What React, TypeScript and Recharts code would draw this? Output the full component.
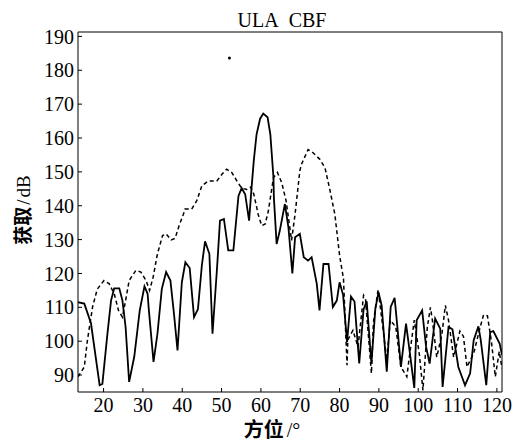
import React from 'react';
import { ComposedChart, Line, Scatter, XAxis, YAxis } from 'recharts';

const xTicks = [20, 30, 40, 50, 60, 70, 80, 90, 100, 110, 120];
const yTicks = [90, 100, 110, 120, 130, 140, 150, 160, 170, 180, 190];

const solidAz = [
  13.5, 15.1, 16.8, 19.0, 19.7, 21.0, 21.9, 22.7, 24.0, 24.8,
  25.6, 26.5, 27.8, 29.2, 30.4, 31.2, 31.5, 32.7, 33.7, 34.8,
  35.9, 37.0, 37.9, 38.8, 39.9, 40.8, 41.9, 43.0, 44.0, 45.0,
  45.8, 46.9, 47.7, 48.9, 49.6, 50.6, 51.7, 53.0, 54.3, 55.1,
  56.0, 57.0, 57.6, 58.2, 58.9, 59.8, 60.6, 61.7, 62.4, 63.2, 63.3, 64.0,
  64.8, 66.1, 67.0, 68.0, 68.7, 69.9, 70.9, 72.0, 72.9, 74.2,
  74.9, 75.9, 77.2, 78.3, 79.3, 80.0, 80.9, 81.9, 82.9, 83.8,
  85.0, 86.1, 86.9, 88.1, 89.1, 89.9, 90.7, 92.0, 93.0, 94.0,
  94.7, 95.6, 96.9, 97.9, 99.0, 99.6, 101.0, 102.0, 102.9, 104.3,
  105.6, 106.2, 107.7, 108.7, 110.2, 111.9, 113.2, 114.1, 115.3, 115.9,
  117.3, 118.3, 119.1, 120.7, 121.3,
];
const solidGain = [
  111.5, 111.1, 105.3, 87.0, 87.4, 102.4, 112.0, 115.6, 115.6, 112.0,
  104.2, 88.0, 95.4, 109.1, 116.2, 114.0, 109.4, 93.9, 102.2, 115.4,
  120.4, 117.9, 108.1, 97.3, 117.4, 123.3, 121.6, 107.1, 109.5, 122.5,
  129.5, 125.8, 102.2, 122.5, 135.6, 136.1, 126.8, 126.8, 142.9, 145.2,
  143.4, 135.6, 144.9, 153.4, 161.1, 165.7, 167.2, 166.1, 161.1, 148.3, 142.4, 128.7,
  132.6, 140.5, 133.6, 120.0, 130.7, 131.7, 124.8, 123.8, 124.8, 117.0,
  109.1, 122.8, 122.8, 110.1, 112.0, 117.4, 113.7, 99.8, 113.2, 111.7,
  93.4, 109.4, 111.8, 93.4, 109.6, 114.4, 110.6, 91.0, 110.1, 112.8,
  104.2, 92.4, 105.2, 96.3, 86.2, 106.2, 109.1, 98.3, 93.4, 106.7,
  103.7, 86.5, 104.2, 103.5, 92.4, 87.0, 90.5, 100.3, 104.4, 100.3,
  87.0, 102.7, 103.0, 99.3, 96.0,
];

const dashedAz = [
  13.5, 15.1, 15.9, 17.2, 18.4, 20.1, 21.4, 22.7, 23.8, 24.8,
  25.6, 26.5, 28.2, 29.5, 30.8, 31.7, 32.6, 33.7, 35.0, 35.9,
  37.2, 38.2, 39.2, 40.3, 40.7, 42.4, 43.7, 45.0, 46.6, 48.8,
  50.1, 51.3, 52.6, 53.9, 55.1, 56.4, 57.4, 58.2, 59.3, 60.2,
  61.1, 61.9, 63.2, 64.2, 65.3, 66.4, 67.8, 68.7, 69.9, 70.3,
  72.0, 73.2, 75.0, 76.3, 77.5, 78.8, 80.0, 81.0, 81.4, 81.9,
  82.1, 83.4, 84.7, 86.1, 86.6, 88.1, 88.6, 89.8, 91.1, 92.0,
  92.9, 94.3, 95.6, 97.1, 97.9, 99.0, 100.3, 101.2, 102.3, 103.1,
  103.6, 104.7, 106.0, 106.9, 107.7, 109.0, 110.6, 111.5, 112.4, 114.1,
  115.5, 116.6, 117.6, 118.6, 119.6, 120.6, 121.3,
];
const dashedGain = [
  89.5, 92.4, 100.3, 110.1, 115.4, 117.9, 117.0, 114.0, 109.1, 107.1,
  112.0, 117.9, 120.9, 120.4, 117.9, 115.0, 118.9, 125.8, 131.2, 131.7,
  129.9, 130.4, 134.1, 137.5, 139.0, 139.0, 141.5, 145.9, 147.3, 147.3,
  149.3, 150.8, 149.8, 147.3, 145.2, 144.8, 145.5, 143.4, 137.5, 134.1,
  134.6, 138.5, 148.3, 149.8, 146.8, 141.5, 129.8, 137.6, 150.3, 152.2,
  156.6, 155.7, 153.7, 151.2, 144.9, 137.5, 125.4, 118.4, 107.1, 92.9,
  100.4, 103.2, 98.3, 113.5, 112.4, 90.5, 105.4, 115.3, 103.2, 94.4,
  106.2, 104.2, 92.4, 89.5, 96.8, 106.2, 96.0, 85.5, 104.0, 110.0,
  106.2, 95.3, 101.8, 110.6, 106.2, 95.3, 103.0, 101.4, 92.4, 96.4,
  103.0, 107.8, 107.5, 100.0, 89.5, 97.0, 92.0,
];

const strayAz = [52.0];
const strayGain = [183.6];

const solidData = solidAz.map((x, i) => ({ x, y: solidGain[i] }));
const dashedData = dashedAz.map((x, i) => ({ x, y: dashedGain[i] }));
const strayData = strayAz.map((x, i) => ({ x, y: strayGain[i] }));

const serif = '"Liberation Serif", "Times New Roman", serif';
const cjk = '"Noto Sans CJK SC", sans-serif';
const tickStyle = { fontSize: 20, fontFamily: serif, fill: '#000' };
const X_DOMAIN: [number, number] = [13.5, 121.3];
const Y_DOMAIN: [number, number] = [85, 191.3];

export default function App() {
  return (
    <div style={{ position: 'absolute', left: 0, top: 0, width: 521, height: 446, background: '#fff' }}>
      <ComposedChart width={521} height={446} margin={{ top: 0, right: 0, bottom: 0, left: 0 }}>
        <XAxis
          xAxisId="b"
          dataKey="x"
          type="number"
          orientation="bottom"
          domain={X_DOMAIN}
          allowDataOverflow
          ticks={xTicks}
          interval={0}
          height={54}
          tickSize={-4}
          tickMargin={10}
          stroke="#000"
          tick={tickStyle}
        />
        <XAxis
          xAxisId="t"
          dataKey="x"
          type="number"
          orientation="top"
          domain={X_DOMAIN}
          allowDataOverflow
          ticks={xTicks}
          interval={0}
          height={32}
          tickSize={-4}
          stroke="#000"
          tick={false}
        />
        <YAxis
          yAxisId="l"
          type="number"
          orientation="left"
          domain={Y_DOMAIN}
          allowDataOverflow
          ticks={yTicks}
          interval={0}
          width={78}
          tickSize={-4}
          tickMargin={8}
          stroke="#000"
          tick={tickStyle}
        />
        <YAxis
          yAxisId="r"
          type="number"
          orientation="right"
          domain={Y_DOMAIN}
          allowDataOverflow
          ticks={yTicks}
          interval={0}
          width={19}
          tickSize={-4}
          stroke="#000"
          tick={false}
        />
        <Line
          xAxisId="b"
          yAxisId="l"
          data={dashedData}
          dataKey="y"
          type="linear"
          stroke="#000"
          strokeWidth={1.5}
          strokeDasharray="4 3"
          dot={false}
          activeDot={false}
          isAnimationActive={false}
        />
        <Line
          xAxisId="b"
          yAxisId="l"
          data={solidData}
          dataKey="y"
          type="linear"
          stroke="#000"
          strokeWidth={1.8}
          dot={false}
          activeDot={false}
          isAnimationActive={false}
        />
        <Scatter
          xAxisId="b"
          yAxisId="l"
          data={strayData}
          dataKey="y"
          fill="#000"
          isAnimationActive={false}
          shape={(p: any) => <circle cx={p.cx} cy={p.cy} r={1.5} fill="#000" />}
        />
      </ComposedChart>
      <svg width={521} height={446} style={{ position: 'absolute', left: 0, top: 0, pointerEvents: 'none' }}>
        <text x={282} y={27} textAnchor="middle" fontFamily={serif} fontSize={20} fill="#000">
          {'ULA\u00a0\u00a0CBF'}
        </text>
        <text transform="translate(30,210) rotate(-90)" textAnchor="middle" fontSize={19} fill="#000">
          <tspan fontFamily={cjk} fontWeight={700}>获取</tspan>
          <tspan fontFamily={serif} dx={2}>/</tspan>
          <tspan fontFamily={serif} dx={2}>dB</tspan>
        </text>
        <text x={272} y={437} textAnchor="middle" fontSize={20} fill="#000">
          <tspan fontFamily={cjk} fontWeight={700}>方位</tspan>
          <tspan fontFamily={serif} dx={3}>/°</tspan>
        </text>
      </svg>
    </div>
  );
}
